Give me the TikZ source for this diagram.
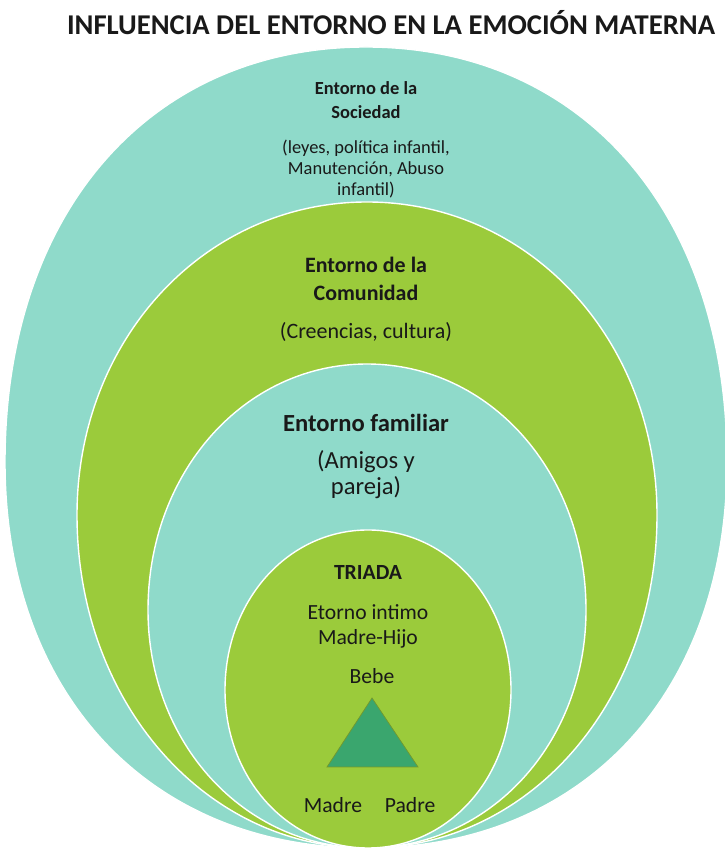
\documentclass[tikz,border=0pt]{standalone}
\usepackage{fontspec}
\setmainfont{Carlito}
\usetikzlibrary{positioning,calc}
\definecolor{turquesa}{RGB}{143,218,202}
\definecolor{verde}{RGB}{155,203,59}
\definecolor{verdeosc}{RGB}{58,166,110}
% capa: [curvatura]{color}{centro x}{radio x}{altura mas ancha}{cima}, todas acaban abajo en y=6
\newcommand{\capa}[6][0.56]{%
  \fill[#2,draw=white,line width=0.8pt] (#3-#4,#5)
    .. controls (#3-#4,{#5+#1*(#6-#5)}) and ({#3-#1*#4},#6) .. (#3,#6)
    .. controls ({#3+#1*#4},#6) and (#3+#4,{#5+#1*(#6-#5)}) .. (#3+#4,#5)
    .. controls (#3+#4,{#5-#1*(#5-6)}) and ({#3+#1*#4},6) .. (#3,6)
    .. controls ({#3-#1*#4},6) and (#3-#4,{#5-#1*(#5-6)}) .. cycle;}

\begin{document}
\begin{tikzpicture}[x=0.02cm,y=0.02cm,
  txt/.style={inner sep=0pt,align=center,text=black!90},
  soc/.style={txt,font=\fontsize{10.5}{11.9}\selectfont},
  socb/.style={txt,font=\fontsize{10.5}{13.6}\selectfont\bfseries},
  com/.style={txt,font=\fontsize{12.5}{15.9}\selectfont},
  comb/.style={txt,font=\fontsize{12.5}{15.9}\selectfont\bfseries},
  fam/.style={txt,font=\fontsize{14}{14.7}\selectfont},
  famb/.style={txt,font=\fontsize{14}{14.7}\selectfont\bfseries},
  tri/.style={txt,font=\fontsize{12.3}{14.2}\selectfont},
  trib/.style={txt,font=\fontsize{12.3}{14.2}\selectfont\bfseries}]
\useasboundingbox (0,0) rectangle (724,854);
%
% capas del entorno
\capa[0.6]{turquesa}{366}{361}{392}{807}
\capa{verde}{367}{290}{339}{652}
\capa{turquesa}{367}{219}{244}{490}
\capa{verde}{368}{143}{164}{324}
%
% triada
\coordinate (bebe) at (372,156);
\coordinate (madre) at (327,87);
\coordinate (padre) at (418,87);
\filldraw[fill=verdeosc,draw=verde!75!black,line width=0.4pt] (bebe) -- (madre) -- (padre) -- cycle;
%
\node[txt,font=\fontsize{16.3}{18}\selectfont\bfseries] (titulo) at (391,831) {INFLUENCIA DEL ENTORNO EN LA EMOCIÓN MATERNA};
%
\node[socb] (sociedad) at (366,754) {Entorno de la\\Sociedad};
\node[soc] (leyes) at (366,685) {(leyes, política infantil,\\Manutención, Abuso\\infantil)};
\node[comb] (comunidad) at (366,575) {Entorno de la\\Comunidad};
\node[com] (creencias) at (366,522) {(Creencias, cultura)};
\node[famb] (familiar) at (366,431) {Entorno familiar};
\node[fam] (amigos) at (366,379) {(Amigos y\\pareja)};
\node[trib] (triada) at (368,282) {TRIADA};
\node[tri] (intimo) at (368,228) {Etorno intimo\\Madre-Hijo};
%
\node[tri,above=8pt of bebe] (lbebe) {Bebe};
\node[tri,below=17pt of madre,xshift=3.4pt] (lmadre) {Madre};
\node[tri,below=17pt of padre,xshift=-4.5pt] (lpadre) {Padre};
\end{tikzpicture}
\end{document}
